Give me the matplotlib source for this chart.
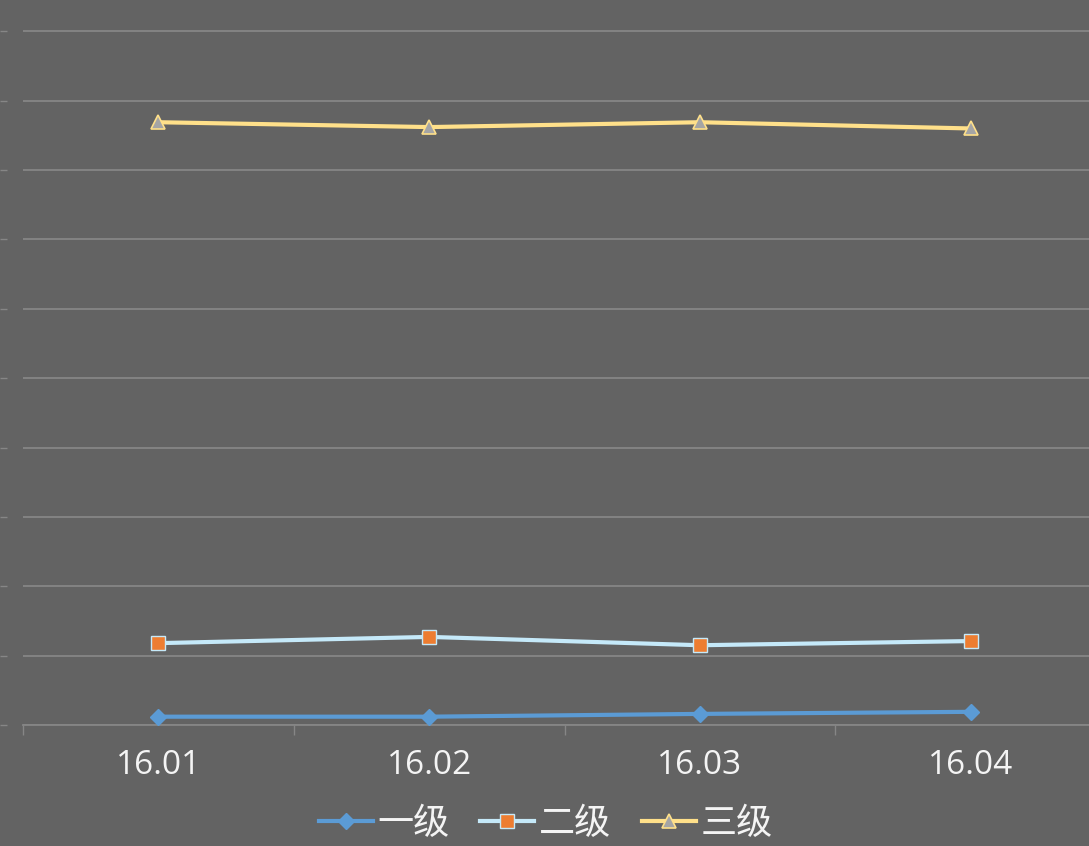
import numpy as np
import matplotlib
matplotlib.use('Agg')
import matplotlib.pyplot as plt

plt.rcParams['font.family'] = ['Noto Sans CJK SC', 'DejaVu Sans']

# data (percent shares per month)
months = ['16.01', '16.02', '16.03', '16.04']
level1 = [1.2, 1.2, 1.6, 1.9]
level2 = [11.8, 12.7, 11.5, 12.1]
level3 = [86.9, 86.2, 86.9, 86.0]
names = ['一级', '二级', '三级']

bg = '#636363'
grid_c = '#868686'
text_c = '#f4f4f4'

fig = plt.figure(figsize=(10.89, 8.46), dpi=100, facecolor=bg)
# plot area runs past the top and right edge of the picture
ax = fig.add_axes([23 / 1089, 121 / 846, 1083 / 1089, 763 / 846])
ax.set_facecolor(bg)

x = np.arange(len(months))
ax.plot(x, level1, color='#5b9bd5', lw=3, marker='D', ms=8,
        mfc='#5b9bd5', mec='#5b9bd5', label=names[0], zorder=3)
ax.plot(x, level2, color='#c5e9f9', lw=3, marker='s', ms=9.5,
        mfc='#ed7d31', mec='#c5e9f9', mew=1, label=names[1], zorder=3)
ax.plot(x, level3, color='#ffe08a', lw=3, marker='^', ms=10,
        mfc='#a5a5a5', mec='#ffe08a', mew=1.2, label=names[2], zorder=3)

ax.set_xlim(-0.5, 3.5)
ax.set_ylim(0, 110)
ax.set_yticks(np.arange(0, 111, 10))
ax.grid(axis='y', color=grid_c, lw=1.3)
ax.set_axisbelow(True)

ax.set_xticks(x)
ax.set_xticklabels(months, color=text_c, fontsize=24,
                   family=['Open Sans', 'DejaVu Sans'])
ax.set_xticks(np.arange(-0.5, 3.6, 1), minor=True)
ax.tick_params(axis='x', which='major', length=0, pad=17)
ax.tick_params(axis='x', which='minor', length=7, color=grid_c, width=1)

for s in ['top', 'right']:
    ax.spines[s].set_visible(False)
ax.spines['bottom'].set_color(grid_c)
ax.spines['bottom'].set_linewidth(1.3)
# y axis sits off to the left, only its ticks show
ax.spines['left'].set_position(('outward', 11.5))
ax.spines['left'].set_visible(False)
ax.tick_params(axis='y', length=5, color=grid_c, width=1, labelleft=False)

fig.legend(loc='center', bbox_to_anchor=(0.501, 0.026), ncol=3, frameon=False,
           fontsize=26, labelcolor=text_c, handlelength=1.5, handletextpad=0.12,
           columnspacing=0.85)

fig.savefig('out.png', dpi=100, facecolor=bg)
